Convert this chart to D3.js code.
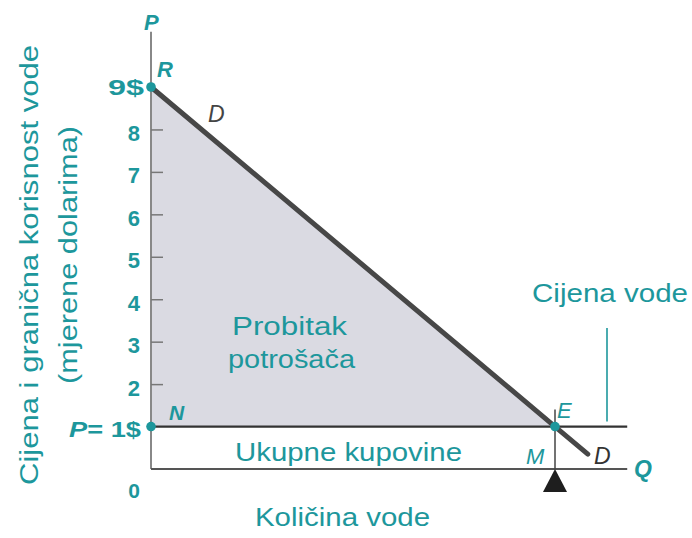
<!DOCTYPE html>
<html>
<head>
<meta charset="utf-8">
<script src="https://cdn.jsdelivr.net/npm/d3@7"></script>
<style>
  html, body { margin: 0; padding: 0; background: #fff; }
  svg { display: block; }
  text { font-family: "Liberation Sans", Arial, sans-serif; }
</style>
</head>
<body>
<svg id="chart" width="692" height="538"></svg>
<script>
// ---- data ----
const priceTicks = [2, 3, 4, 5, 6, 7, 8];
const demandQ = [0, 8, 8.65];
const demandP = [9, 1, 0.35];
const marketPrice = 1;
const equilibriumQ = 8;
const maxPrice = 9;
const axisMaxQ = 9.43;
const axisMaxP = 10.3;

const teal = "#1d979c";
const svg = d3.select("#chart");

const x = d3.scaleLinear().domain([0, 10]).range([151, 656]);
const y = d3.scaleLinear().domain([0, 9]).range([469, 87]);

// consumer surplus area
const surplus = [
  { q: demandQ[0], p: demandP[0] },
  { q: demandQ[1], p: demandP[1] }
];
svg.append("path")
  .datum(surplus)
  .attr("fill", "#dadae2")
  .attr("d", d3.area().x(d => x(d.q)).y0(y(marketPrice)).y1(d => y(d.p)));

// y axis line
svg.append("line")
  .attr("x1", x(0)).attr("x2", x(0))
  .attr("y1", y(axisMaxP)).attr("y2", y(0))
  .attr("stroke", "#888").attr("stroke-width", 2);

// x axis line
svg.append("line")
  .attr("x1", x(0)).attr("x2", x(axisMaxQ))
  .attr("y1", y(0)).attr("y2", y(0))
  .attr("stroke", "#555").attr("stroke-width", 2);

// y axis ticks
const yAxis = d3.axisLeft(y)
  .tickValues(priceTicks)
  .tickSizeInner(-12)
  .tickSizeOuter(0)
  .tickPadding(11)
  .tickFormat(d3.format("d"));
const ga = svg.append("g").attr("transform", `translate(${x(0)},0)`).call(yAxis);
ga.select(".domain").remove();
ga.selectAll(".tick line").attr("stroke", "#777").attr("stroke-width", 1.5);
ga.selectAll(".tick text")
  .attr("fill", teal)
  .attr("font-size", 22)
  .attr("font-weight", "bold")
  .attr("dy", "0.5em")
  .style("font-family", "'Liberation Sans', Arial, sans-serif");

// price line
svg.append("line")
  .attr("x1", x(0)).attr("x2", x(axisMaxQ))
  .attr("y1", y(marketPrice)).attr("y2", y(marketPrice))
  .attr("stroke", "#333").attr("stroke-width", 2.2);

// vertical line at M
svg.append("line")
  .attr("x1", x(equilibriumQ)).attr("x2", x(equilibriumQ))
  .attr("y1", y(marketPrice) - 17).attr("y2", y(0))
  .attr("stroke", "#444").attr("stroke-width", 1.5);

// triangle (fulcrum)
const tx = x(equilibriumQ), ty = y(0);
svg.append("path")
  .attr("d", `M${tx},${ty} L${tx - 12},${ty + 23} L${tx + 12},${ty + 23} Z`)
  .attr("fill", "#1e1e1e");

// demand line
const dLine = demandQ.map((q, i) => ({ q, p: demandP[i] }));
svg.append("path")
  .datum(dLine)
  .attr("fill", "none")
  .attr("stroke", "#474747")
  .attr("stroke-width", 5)
  .attr("stroke-linecap", "round")
  .attr("d", d3.line().x(d => x(d.q)).y(d => y(d.p)));

// teal marker line for "Cijena vode"
svg.append("line")
  .attr("x1", 607).attr("x2", 607)
  .attr("y1", 328).attr("y2", y(marketPrice) - 5)
  .attr("stroke", teal).attr("stroke-width", 1.6);

// dots
[[0, maxPrice], [0, marketPrice], [equilibriumQ, marketPrice]].forEach(([q, p]) => {
  svg.append("circle").attr("cx", x(q)).attr("cy", y(p)).attr("r", 4.8).attr("fill", teal);
});

// text helper
function label(t, xx, yy, opts = {}) {
  const el = svg.append("text")
    .attr("x", xx).attr("y", yy)
    .attr("fill", opts.color || teal)
    .attr("font-size", opts.size || 20)
    .attr("font-style", opts.italic ? "italic" : "normal")
    .attr("font-weight", opts.bold ? "bold" : "normal")
    .attr("text-anchor", opts.anchor || "start")
    .text(t);
  if (opts.len) el.attr("textLength", opts.len).attr("lengthAdjust", "spacingAndGlyphs");
  if (opts.transform) el.attr("transform", opts.transform);
  return el;
}

// axis value labels
label("9$", 108, 95, { size: 22, bold: true, len: 36 });
const pl = svg.append("text").attr("x", 69).attr("y", 437).attr("fill", teal)
  .attr("font-size", 22).attr("font-weight", "bold")
  .attr("textLength", 72).attr("lengthAdjust", "spacingAndGlyphs");
pl.append("tspan").attr("font-style", "italic").text("P");
pl.append("tspan").text("= 1$");
label("0", 140, 498, { size: 21, bold: true, anchor: "end" });

// point labels
label("P", 144, 30, { size: 22, italic: true, bold: true });
label("R", 157, 77, { size: 22, italic: true, bold: true });
label("D", 208, 122, { size: 23, italic: true, color: "#444" });
label("N", 169, 420, { size: 21, italic: true, bold: true });
label("E", 557, 418, { size: 22, italic: true });
label("M", 526, 464, { size: 22, italic: true });
label("D", 594, 464, { size: 23, italic: true, color: "#333" });
label("Q", 634, 477, { size: 23, italic: true, bold: true });

// area labels
label("Probitak", 232, 335, { size: 26, len: 115 });
label("potrošača", 228, 368, { size: 26, len: 127 });
label("Ukupne kupovine", 235, 461, { size: 26, len: 227 });
label("Cijena vode", 532, 302, { size: 26, len: 156 });

// axis titles
label("Količina vode", 255, 526, { size: 26, len: 175 });
label("Cijena i granična korisnost vode", 0, 0, {
  size: 26, len: 440, anchor: "start",
  transform: "translate(38,485) rotate(-90)"
});
label("(mjerene dolarima)", 0, 0, {
  size: 26, len: 258, anchor: "start",
  transform: "translate(77,384) rotate(-90)"
});
</script>
</body>
</html>
